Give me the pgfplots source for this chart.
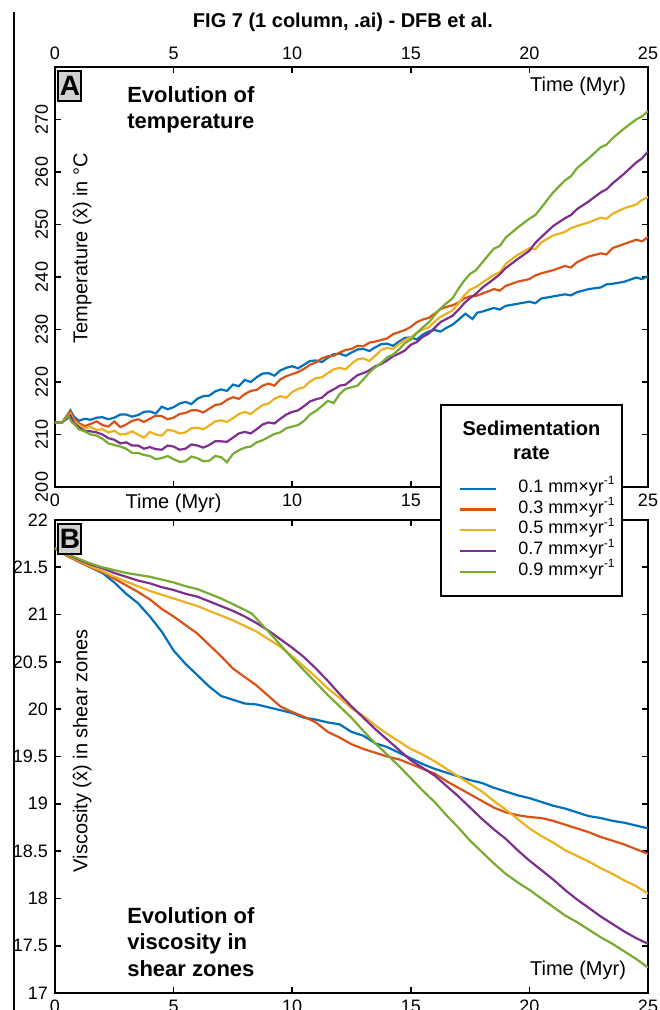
\documentclass[border=0pt]{standalone}
\usepackage{fontspec}
\setmainfont{Liberation Sans}
\usepackage{pgfplots}
\pgfplotsset{compat=1.18}

\definecolor{c1}{rgb}{0,0.447,0.741}
\definecolor{c2}{rgb}{0.85,0.325,0.098}
\definecolor{c3}{rgb}{0.929,0.694,0.125}
\definecolor{c4}{rgb}{0.494,0.184,0.556}
\definecolor{c5}{rgb}{0.466,0.674,0.188}

\pgfplotsset{
  figax/.style={
    scale only axis, width=296.5pt,
    xmin=0, xmax=25, xtick={0,5,10,15,20,25},
    axis line style={line width=1.4pt},
    major tick style={line width=0.8pt, black},
    major tick length=3pt,
    tick align=inside,
    every tick label/.append style={font=\fontsize{9}{10}\selectfont},
    /pgf/number format/assume math mode=true,
    clip mode=individual,
    every axis plot/.append style={line width=1.1pt},
  },
}
\tikzset{
  panellabel/.style={draw, fill=gray!35, line width=1pt, anchor=north west,
    font=\bfseries\fontsize{14}{14}\selectfont, inner sep=0pt,
    minimum width=11.5pt, minimum height=15pt},
  note/.style={font=\bfseries\fontsize{11}{13.2}\selectfont, align=left, anchor=west},
}

\begin{document}
\begin{tikzpicture}
% ---------- panel A: temperature
\begin{axis}[figax, at={(0,0)}, anchor=south west, height=210pt,
  ymin=200, ymax=280, ytick={200,210,220,230,240,250,260,270},
  xticklabels={0,{\fontsize{10}{12}\selectfont Time (Myr)},10,15,,25},
  yticklabel style={rotate=90, anchor=south}]
\addplot[c1] coordinates {(0,212.3) (0.3,212.3) (0.5,213.5) (0.65,214.6) (0.8,213.4) (1,212.6) (1.25,213.0) (1.5,212.8) (1.75,213.2) (2,213.3) (2.25,212.9) (2.5,213.2) (2.75,213.8) (3,213.8) (3.25,213.4) (3.5,213.7) (3.75,214.3) (4,214.4) (4.25,214.0) (4.5,215.3) (4.75,214.8) (5,215.2) (5.25,215.9) (5.5,216.2) (5.75,215.8) (6,216.8) (6.25,217.3) (6.5,217.4) (6.75,218.2) (7,218.6) (7.25,218.3) (7.5,219.5) (7.75,219.2) (8,220.4) (8.25,220.0) (8.5,220.9) (8.75,221.6) (9,221.7) (9.25,221.2) (9.5,222.2) (9.75,222.7) (10,223.0) (10.25,222.6) (10.5,223.3) (10.75,224.0) (11,224.1) (11.25,223.8) (11.5,224.6) (11.75,225.3) (12,225.4) (12.25,225.0) (12.5,225.6) (12.75,226.2) (13,226.3) (13.25,225.9) (13.5,226.6) (13.75,227.2) (14,227.3) (14.25,226.9) (14.5,227.7) (14.75,228.4) (15,228.5) (15.25,228.1) (15.5,229.0) (15.75,229.6) (16,229.9) (16.25,229.6) (16.5,230.3) (16.75,230.9) (17,231.8) (17.3,233.0) (17.6,232.0) (17.8,233.2) (18,233.4) (18.5,234.1) (18.75,233.8) (19,234.5) (19.5,234.9) (20,235.3) (20.25,235.0) (20.5,235.9) (21,236.3) (21.5,236.7) (21.75,236.5) (22,237.1) (22.5,237.7) (23,238.0) (23.25,238.6) (23.5,238.7) (24,239.1) (24.5,239.9) (24.75,239.6) (25,240.2)};
\addplot[c2] coordinates {(0,212.3) (0.3,212.3) (0.5,213.6) (0.65,214.4) (0.8,213.0) (1,212.2) (1.25,211.6) (1.5,212.0) (1.75,212.5) (2,211.8) (2.25,211.5) (2.5,212.5) (2.75,211.4) (3,211.9) (3.25,212.6) (3.5,212.9) (3.75,212.4) (4,213.0) (4.25,213.6) (4.5,213.5) (4.75,212.9) (5,213.2) (5.25,213.9) (5.5,214.1) (5.75,214.6) (6,214.6) (6.25,214.2) (6.5,214.9) (6.75,215.6) (7,215.8) (7.25,216.6) (7.5,217.1) (7.75,216.8) (8,217.7) (8.25,218.3) (8.5,218.5) (8.75,219.3) (9,219.7) (9.25,219.3) (9.5,220.5) (9.75,221.1) (10,221.5) (10.25,221.9) (10.5,222.5) (10.75,223.3) (11,223.7) (11.25,224.5) (11.5,224.9) (11.75,225.0) (12,225.6) (12.25,226.1) (12.5,226.3) (12.75,226.9) (13,226.8) (13.25,227.5) (13.5,227.7) (13.75,228.0) (14,228.3) (14.25,229.1) (14.5,229.5) (14.75,229.9) (15,230.5) (15.25,231.4) (15.5,231.9) (15.75,232.2) (16,233.0) (16.25,233.9) (16.5,234.3) (16.75,234.6) (17,235.1) (17.25,235.9) (17.5,236.3) (17.75,236.4) (18,236.8) (18.5,237.7) (18.75,237.4) (19,238.3) (19.5,239.1) (20,239.6) (20.25,240.3) (20.5,240.7) (21,241.3) (21.5,242.1) (21.75,241.8) (22,242.8) (22.5,243.9) (23,244.5) (23.25,244.3) (23.5,245.5) (24,246.3) (24.5,247.1) (24.75,246.8) (25,247.6)};
\addplot[c3] coordinates {(0,212.3) (0.3,212.3) (0.5,213.2) (0.65,213.9) (0.8,212.6) (1,211.8) (1.25,211.2) (1.5,211.4) (1.75,210.9) (2,211.0) (2.25,210.4) (2.5,210.7) (2.75,210.0) (3,210.1) (3.25,210.6) (3.5,210.0) (3.75,209.4) (4,210.5) (4.25,210.0) (4.5,209.8) (4.75,210.9) (5,210.7) (5.25,210.2) (5.5,210.4) (5.75,211.2) (6,211.3) (6.25,211.0) (6.5,211.7) (6.75,212.5) (7,212.7) (7.25,212.4) (7.5,213.1) (7.75,213.9) (8,214.3) (8.25,213.9) (8.5,214.8) (8.75,215.6) (9,215.9) (9.25,216.8) (9.5,217.3) (9.75,217.0) (10,218.1) (10.25,218.7) (10.5,219.0) (10.75,220.1) (11,220.7) (11.25,220.9) (11.5,221.7) (11.75,222.4) (12,222.7) (12.25,222.4) (12.5,223.5) (12.75,224.3) (13,224.5) (13.25,224.0) (13.5,225.0) (13.75,226.1) (14,226.5) (14.25,226.3) (14.5,227.2) (14.75,228.0) (15,228.5) (15.25,229.4) (15.5,230.0) (15.75,230.4) (16,231.5) (16.25,232.4) (16.5,233.0) (16.75,233.6) (17,234.9) (17.25,236.5) (17.5,237.6) (17.75,238.1) (18,238.9) (18.5,240.4) (18.75,240.9) (19,242.5) (19.5,244.2) (20,245.5) (20.25,245.3) (20.5,246.6) (21,247.9) (21.5,248.6) (21.75,249.3) (22,249.7) (22.5,250.4) (23,251.3) (23.25,251.1) (23.5,252.0) (24,253.1) (24.5,253.8) (24.75,254.7) (25,255.2)};
\addplot[c4] coordinates {(0,212.3) (0.3,212.3) (0.5,213.0) (0.65,213.6) (0.8,212.2) (1,211.4) (1.25,210.7) (1.5,210.6) (1.75,210.4) (2,210.0) (2.25,209.3) (2.5,209.0) (2.75,208.3) (3,208.5) (3.25,207.9) (3.5,207.9) (3.75,207.3) (4,207.6) (4.25,207.2) (4.5,207.1) (4.75,207.9) (5,207.7) (5.25,207.1) (5.5,207.3) (5.75,208.1) (6,207.9) (6.25,207.5) (6.5,208.0) (6.75,208.7) (7,208.7) (7.25,208.6) (7.5,209.4) (7.75,210.2) (8,210.5) (8.25,210.2) (8.5,211.0) (8.75,211.9) (9,212.3) (9.25,212.1) (9.5,213.0) (9.75,213.8) (10,214.3) (10.25,214.6) (10.5,215.4) (10.75,216.3) (11,216.7) (11.25,217.0) (11.5,218.0) (11.75,218.6) (12,219.3) (12.25,219.5) (12.5,220.4) (12.75,221.3) (13,221.7) (13.25,222.2) (13.5,223.0) (13.75,223.4) (14,224.1) (14.25,224.9) (14.5,225.4) (14.75,226.0) (15,227.1) (15.25,227.6) (15.5,228.6) (15.75,229.2) (16,230.3) (16.25,231.4) (16.5,232.0) (16.75,232.6) (17,233.7) (17.25,235.0) (17.5,236.0) (17.75,236.8) (18,237.9) (18.5,239.6) (18.75,240.5) (19,241.7) (19.5,243.4) (20,245.0) (20.25,246.5) (20.5,247.6) (21,249.7) (21.5,251.2) (21.75,251.8) (22,252.9) (22.5,254.4) (23,256.1) (23.25,256.7) (23.5,257.8) (24,259.7) (24.5,261.8) (24.75,262.6) (25,263.9)};
\addplot[c5] coordinates {(0,212.3) (0.3,212.3) (0.55,213.6) (0.7,212.4) (0.85,211.8) (1,211.0) (1.25,210.6) (1.5,210.0) (1.75,209.8) (2,209.2) (2.25,208.3) (2.5,208.0) (2.75,207.7) (3,207.3) (3.25,206.5) (3.5,206.5) (3.75,206.1) (4,205.9) (4.25,205.3) (4.5,205.5) (4.75,205.9) (5,205.3) (5.25,204.8) (5.5,204.9) (5.75,205.8) (6,205.5) (6.25,204.9) (6.5,205.0) (6.75,205.9) (7,205.7) (7.25,204.7) (7.5,206.3) (7.75,207.0) (8,207.5) (8.25,207.7) (8.5,208.5) (8.75,208.9) (9,209.5) (9.25,210.1) (9.5,210.4) (9.75,211.2) (10,211.5) (10.25,211.8) (10.5,212.6) (10.75,213.8) (11,214.5) (11.25,215.4) (11.5,216.4) (11.75,216.0) (12,217.7) (12.25,218.7) (12.5,219.0) (12.75,219.3) (13,220.5) (13.25,221.8) (13.5,222.8) (13.75,223.6) (14,224.7) (14.25,225.2) (14.5,226.2) (14.75,227.4) (15,228.1) (15.25,229.3) (15.5,230.4) (15.75,231.3) (16,232.7) (16.25,234.0) (16.5,235.0) (16.75,235.9) (17,237.7) (17.25,239.3) (17.5,240.6) (17.75,241.3) (18,242.7) (18.5,245.4) (18.75,245.9) (19,247.5) (19.5,249.4) (20,251.1) (20.25,251.8) (20.5,253.2) (21,256.1) (21.5,258.4) (21.75,259.2) (22,260.7) (22.5,262.6) (23,264.7) (23.25,265.2) (23.5,266.4) (24,268.3) (24.5,270.0) (24.75,270.6) (25,271.6)};
\node[panellabel] at (rel axis cs:0.004,0.993) {A};
\node[note] at (axis cs:2.75,271.9) {Evolution of\\temperature};
\node[font=\fontsize{10}{12}\selectfont] at (axis cs:22.05,276.3) {Time (Myr)};
\node[font=\fontsize{10}{12}\selectfont, rotate=90] at (axis cs:1.15,245.5) {Temperature (x̂) in °C};
\end{axis}
% top tick labels of panel A
\begin{axis}[figax, at={(0,0)}, anchor=south west, height=210pt,
  ymin=200, ymax=280, ytick=\empty, xticklabel pos=upper,
  axis line style={draw=none}, major tick style={draw=none}]
\end{axis}
% ---------- panel B: viscosity
\begin{axis}[figax, at={(0,-16.5pt)}, anchor=north west, height=236.5pt,
  ymin=17, ymax=22, ytick={17,17.5,18,18.5,19,19.5,20,20.5,21,21.5,22},
  legend cell align=left,
  legend image code/.code={\draw[#1] (0pt,0pt) -- (18pt,0pt);},
  legend style={draw=none, fill=none, at={(0.681,1.0888)}, anchor=north west,
    inner sep=0pt, row sep=0pt, font=\fontsize{9}{10}\selectfont,
    nodes={inner sep=0pt, text height=7pt, text depth=3.4pt},
    /tikz/every odd column/.append style={column sep=10.5pt}}]
\addplot[c1] coordinates {(0,21.70) (0.5,21.63) (1,21.56) (1.5,21.50) (2,21.44) (2.5,21.34) (3,21.22) (3.5,21.12) (4,20.98) (4.5,20.82) (5,20.62) (5.5,20.48) (6,20.36) (6.5,20.24) (7,20.14) (7.5,20.10) (8,20.06) (8.5,20.05) (9,20.02) (9.5,19.99) (10,19.96) (10.5,19.91) (11,19.89) (11.5,19.86) (12,19.84) (12.5,19.76) (13,19.72) (13.5,19.64) (14,19.60) (14.5,19.54) (15,19.48) (15.5,19.42) (16,19.37) (16.5,19.33) (17,19.29) (17.5,19.25) (18,19.22) (18.5,19.17) (19,19.13) (19.5,19.09) (20,19.06) (20.5,19.02) (21,18.98) (21.5,18.95) (22,18.91) (22.5,18.87) (23,18.85) (23.5,18.82) (24,18.80) (24.5,18.77) (25,18.74)};
\addplot[c2] coordinates {(0,21.70) (0.5,21.62) (1,21.56) (1.5,21.50) (2,21.45) (2.5,21.38) (3,21.31) (3.5,21.24) (4,21.16) (4.5,21.06) (5,20.98) (5.5,20.89) (6,20.80) (6.5,20.68) (7,20.56) (7.5,20.43) (8,20.34) (8.5,20.25) (9,20.14) (9.5,20.03) (10,19.97) (10.5,19.92) (11,19.86) (11.5,19.76) (12,19.70) (12.5,19.63) (13,19.58) (13.5,19.54) (14,19.50) (14.5,19.47) (15,19.42) (15.5,19.37) (16,19.32) (16.5,19.24) (17,19.17) (17.5,19.10) (18,19.03) (18.5,18.96) (19,18.91) (19.5,18.88) (20,18.86) (20.5,18.85) (21,18.82) (21.5,18.78) (22,18.74) (22.5,18.70) (23,18.65) (23.5,18.61) (24,18.57) (24.5,18.52) (25,18.47)};
\addplot[c3] coordinates {(0,21.70) (0.5,21.63) (1,21.57) (1.5,21.51) (2,21.46) (2.5,21.40) (3,21.35) (3.5,21.30) (4,21.25) (4.5,21.21) (5,21.17) (5.5,21.13) (6,21.09) (6.5,21.04) (7,20.99) (7.5,20.94) (8,20.88) (8.5,20.82) (9,20.74) (9.5,20.66) (10,20.56) (10.5,20.45) (11,20.34) (11.5,20.22) (12,20.12) (12.5,20.01) (13,19.93) (13.5,19.83) (14,19.74) (14.5,19.66) (15,19.58) (15.5,19.52) (16,19.45) (16.5,19.37) (17,19.29) (17.5,19.21) (18,19.13) (18.5,19.03) (19,18.94) (19.5,18.84) (20,18.74) (20.5,18.66) (21,18.59) (21.5,18.51) (22,18.45) (22.5,18.39) (23,18.32) (23.5,18.26) (24,18.19) (24.5,18.13) (25,18.05)};
\addplot[c4] coordinates {(0,21.70) (0.5,21.64) (1,21.58) (1.5,21.53) (2,21.49) (2.5,21.44) (3,21.40) (3.5,21.36) (4,21.33) (4.5,21.29) (5,21.26) (5.5,21.22) (6,21.19) (6.5,21.14) (7,21.09) (7.5,21.04) (8,20.98) (8.5,20.91) (9,20.83) (9.5,20.74) (10,20.65) (10.5,20.55) (11,20.43) (11.5,20.30) (12,20.16) (12.5,20.03) (13,19.91) (13.5,19.79) (14,19.68) (14.5,19.57) (15,19.46) (15.5,19.38) (16,19.30) (16.5,19.19) (17,19.08) (17.5,18.96) (18,18.84) (18.5,18.73) (19,18.63) (19.5,18.51) (20,18.40) (20.5,18.30) (21,18.20) (21.5,18.09) (22,17.99) (22.5,17.90) (23,17.81) (23.5,17.73) (24,17.65) (24.5,17.58) (25,17.52)};
\addplot[c5] coordinates {(0,21.70) (0.5,21.64) (1,21.59) (1.5,21.54) (2,21.50) (2.5,21.47) (3,21.44) (3.5,21.42) (4,21.40) (4.5,21.37) (5,21.34) (5.5,21.30) (6,21.27) (6.5,21.22) (7,21.17) (7.5,21.11) (8,21.05) (8.3,21.01) (8.7,20.90) (9,20.82) (9.5,20.68) (10,20.54) (10.5,20.41) (11,20.28) (11.5,20.15) (12,20.03) (12.5,19.91) (13,19.77) (13.5,19.64) (14,19.52) (14.5,19.40) (15,19.27) (15.5,19.14) (16,19.02) (16.5,18.88) (17,18.75) (17.5,18.61) (18,18.49) (18.5,18.37) (19,18.26) (19.5,18.17) (20,18.09) (20.5,18.00) (21,17.91) (21.5,17.82) (22,17.75) (22.5,17.67) (23,17.59) (23.5,17.52) (24,17.44) (24.5,17.36) (25,17.27)};
\legend{0.1 mm×yr\textsuperscript{-1},0.3 mm×yr\textsuperscript{-1},0.5 mm×yr\textsuperscript{-1},0.7 mm×yr\textsuperscript{-1},0.9 mm×yr\textsuperscript{-1}}
\node[panellabel] at (rel axis cs:0.004,0.994) {B};
\node[note] at (axis cs:2.75,17.54) {Evolution of\\viscosity in\\shear zones};
\node[font=\fontsize{10}{12}\selectfont] at (axis cs:22.05,17.24) {Time (Myr)};
\node[font=\fontsize{10}{12}\selectfont, rotate=90] at (axis cs:1.15,19.56) {Viscosity (x̂) in shear zones};
% legend frame and title
\draw[line width=1.2pt, fill=white] (rel axis cs:0.651,1.2431) rectangle (rel axis cs:0.956,0.8393);
\node[font=\bfseries\fontsize{10}{12}\selectfont, align=center] at (rel axis cs:0.8035,1.169) {Sedimentation\\rate};
\end{axis}
\node[font=\bfseries\fontsize{10}{12}\selectfont] at (144pt,232.5pt) {FIG 7 (1 column, .ai) - DFB et al.};
\draw[line width=0.7pt] (-20.5pt,237.5pt) -- (-20.5pt,-261.5pt);
\pgfresetboundingbox
\path[use as bounding box] (-27.5pt,-261.5pt) rectangle (302pt,243.5pt);
\end{tikzpicture}
\end{document}
